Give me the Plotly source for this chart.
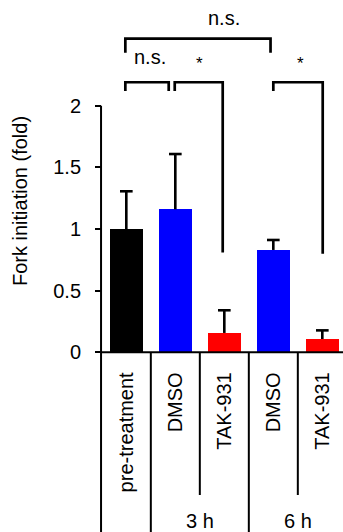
import plotly.graph_objects as go

# ---- data -------------------------------------------------------------
categories = ["pre-treatment", "DMSO", "TAK-931", "DMSO", "TAK-931"]
fold_change = [1.0, 1.16, 0.157, 0.83, 0.108]
fold_sem = [0.306, 0.448, 0.184, 0.081, 0.070]
bar_colors = ["#000000", "#0000ff", "#ff0000", "#0000ff", "#ff0000"]
time_labels = ["3 h", "6 h"]
y_ticks = [0, 0.5, 1, 1.5, 2]

# significance brackets: (left x, right x, top y, left leg end, right leg end)
brackets = [
    (-0.02, 0.865, 2.19, 2.12, 2.12),
    (0.988, 1.967, 2.19, 2.12, 0.81),
    (3.0, 4.008, 2.19, 2.12, 0.80),
    (-0.02, 2.943, 2.543, 2.43, 2.43),
]
# significance labels: (text, x, y, font size)
sig_labels = [
    ("n.s.", 2.0, 2.711, 20),
    ("n.s.", 0.48, 2.395, 20),
    ("*", 1.49, 2.34, 17),
    ("*", 3.55, 2.34, 17),
]

# ---- geometry ---------------------------------------------------------
W, H = 343, 532
X_RANGE = [-2.578, 4.422]
Y_RANGE = [-1.457, 2.857]
AXIS_X = -0.516           # data x of the vertical axis line
CAP = 0.129               # half width of the error-bar caps (x units)
FONT = "Liberation Sans, Arial, Helvetica, sans-serif"

n = len(categories)
xs = list(range(n))

fig = go.Figure()
fig.add_trace(go.Bar(
    x=xs,
    y=fold_change,
    width=0.667,
    marker=dict(color=bar_colors, line=dict(width=0)),
    showlegend=False,
    hoverinfo="skip",
))

# upward-only error bars: stem from the bar top plus a cap
ex, ey = [], []
for x, m, s in zip(xs, fold_change, fold_sem):
    ex += [x, x, None, x - CAP, x + CAP, None]
    ey += [m, m + s, None, m + s, m + s, None]
fig.add_trace(go.Scatter(x=ex, y=ey, mode="lines",
                         line=dict(color="black", width=2.6),
                         showlegend=False, hoverinfo="skip"))

shapes = []
line_k = dict(color="black", width=2)
# vertical axis line from the top tick down to the page bottom
shapes.append(dict(type="line", xref="x", yref="y", x0=AXIS_X, x1=AXIS_X,
                   y0=max(y_ticks), y1=Y_RANGE[0], line=line_k))
# baseline
shapes.append(dict(type="line", xref="x", yref="y", x0=AXIS_X, x1=X_RANGE[1],
                   y0=0, y1=0, line=line_k))
# column separators under the baseline
for b in [0.5, 2.5, 4.5]:
    shapes.append(dict(type="line", xref="x", yref="y", x0=b, x1=b,
                       y0=0, y1=Y_RANGE[0], line=line_k))
for b in [1.5, 3.5]:
    shapes.append(dict(type="line", xref="x", yref="y", x0=b, x1=b,
                       y0=0, y1=-1.157, line=line_k))

# brackets
br_line = dict(color="black", width=2.7)
for x0, x1, top, l_end, r_end in brackets:
    shapes.append(dict(type="path", xref="x", yref="y",
                       path=f"M {x0},{l_end} L {x0},{top} L {x1},{top} L {x1},{r_end}",
                       line=br_line))

annotations = []
for text, x, y, size in sig_labels:
    annotations.append(dict(text=text, x=x, y=y, xref="x", yref="y",
                            showarrow=False, font=dict(size=size, color="black", family=FONT),
                            xanchor="center", yanchor="middle"))
for label, x in zip(time_labels, [1.5, 3.5]):
    annotations.append(dict(text=label, x=x, y=-1.368, xref="x", yref="y",
                            showarrow=False, font=dict(size=20, color="black", family=FONT),
                            xanchor="center", yanchor="middle"))
annotations.append(dict(text="Fork initiation (fold)", x=20 / W, y=1.227,
                        xref="paper", yref="y", textangle=-90, showarrow=False,
                        font=dict(size=20, color="black", family=FONT),
                        xanchor="center", yanchor="middle"))

fig.update_layout(
    width=W, height=H,
    margin=dict(l=0, r=0, t=0, b=0),
    paper_bgcolor="white", plot_bgcolor="white",
    font=dict(family=FONT, size=20, color="black"),
    shapes=shapes,
    annotations=annotations,
    bargap=0,
    xaxis=dict(range=X_RANGE, domain=[0, 1], anchor="free",
               position=(0 - Y_RANGE[0]) / (Y_RANGE[1] - Y_RANGE[0]),
               tickmode="array", tickvals=xs, ticktext=categories,
               tickangle=-90, ticks="", showline=False, showgrid=False,
               zeroline=False, ticklabelstandoff=15,
               tickfont=dict(size=20, family=FONT, color="black")),
    yaxis=dict(range=Y_RANGE, domain=[0, 1], anchor="free",
               position=(AXIS_X - X_RANGE[0]) / (X_RANGE[1] - X_RANGE[0]),
               tickmode="array", tickvals=y_ticks, ticks="outside", ticklen=6,
               tickwidth=2, tickcolor="black", showline=False, showgrid=False,
               zeroline=False, ticklabelstandoff=10,
               tickfont=dict(size=20, family=FONT, color="black")),
)

fig.write_html("out.html")
